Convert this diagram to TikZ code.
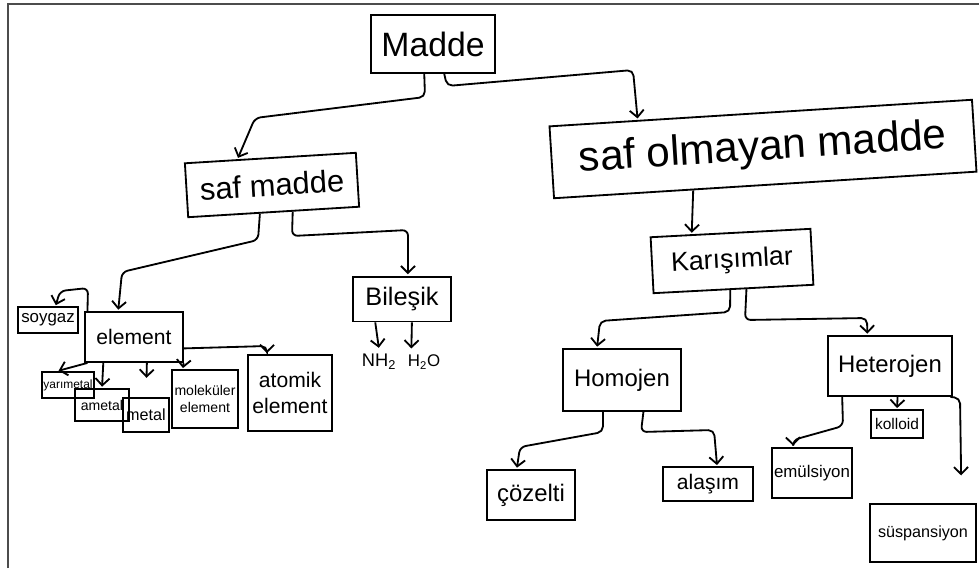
\documentclass[tikz,border=0pt]{standalone}
\usepackage{fontspec}
\setmainfont{Liberation Sans}
\usetikzlibrary{arrows.meta,calc}

\newcommand{\sz}[2]{\fontsize{#1}{#2}\selectfont}

\begin{document}
\begin{tikzpicture}[x=0.025cm,y=-0.025cm,
    box/.style={draw,line width=1.3pt,inner sep=1pt,align=center},
    link/.style={->,line width=1.3pt,shorten >=1pt,rounded corners=4pt},
    >={Straight Barb[length=5pt,width=10pt]}]
	\useasboundingbox (0,0) rectangle (979,568);
	\draw[gray!60!black,line width=2pt] (8,568) -- (8,4) -- (979,4);

	% top of the tree
	\node[box,minimum width=3.08cm,minimum height=1.45cm,font=\sz{24}{26}] (madde) at (433,44) {Madde};
	\node[box,minimum width=4.28cm,minimum height=1.35cm,rotate=3.5,font=\sz{22}{24}] (saf) at (272,185) {saf madde};
	\node[box,minimum width=10.58cm,minimum height=1.8cm,rotate=3.6,font=\sz{30}{32}] (safol) at (763,149) {saf olmayan madde};

	% saf madde side
	\node[box,minimum width=2.43cm,minimum height=1.25cm,font=\sz{15}{17}] (elem) at (134,337) {element};
	\node[box,minimum width=2.43cm,minimum height=1.12cm,font=\sz{18}{20}] (bil) at (402,299) {Bileşik};
	\node[font=\sz{13}{15}] (nh) at (379,362) {NH\textsubscript{2}};
	\node[font=\sz{12}{14}] (su) at (424,362) {H\textsubscript{2}O};

	\node[box,minimum width=1.5cm,minimum height=0.63cm,font=\sz{12}{14}] (soy) at (48,320) {soygaz};
	\node[box,minimum width=1.25cm,minimum height=0.65cm,font=\sz{8.5}{10}] (yari) at (68,385) {yarımetal};
	\node[box,minimum width=1.33cm,minimum height=0.8cm,font=\sz{10}{12}] (amet) at (102,405) {ametal};
	\node[box,minimum width=1.13cm,minimum height=0.83cm,font=\sz{11.5}{13}] (met) at (146,415) {metal};
	\node[box,minimum width=1.63cm,minimum height=1.43cm,font=\sz{10}{12}] (molek) at (205,399) {moleküler\\element};
	\node[box,minimum width=2.1cm,minimum height=1.88cm,font=\sz{15}{18}] (atom) at (290,393) {atomik\\element};

	% karisimlar side
	\node[box,minimum width=4cm,minimum height=1.4cm,rotate=3,font=\sz{19}{21}] (kar) at (732,261) {Karışımlar};
	\node[box,minimum width=2.93cm,minimum height=1.55cm,font=\sz{17}{19}] (homo) at (622,380) {Homojen};
	\node[box,minimum width=3.1cm,minimum height=1.5cm,font=\sz{17}{19}] (het) at (890,366) {Heterojen};
	\node[box,minimum width=2.18cm,minimum height=1.25cm,font=\sz{17}{19}] (coz) at (531,495) {çözelti};
	\node[box,minimum width=2.23cm,minimum height=0.83cm,font=\sz{15}{17}] (alas) at (708,484) {alaşım};
	\node[box,minimum width=1.3cm,minimum height=0.68cm,font=\sz{11}{13}] (koll) at (897,424) {kolloid};
	\node[box,minimum width=2cm,minimum height=1.25cm,font=\sz{12}{14}] (emul) at (812,473) {emülsiyon};
	\node[box,minimum width=2.63cm,minimum height=1.43cm,font=\sz{11.5}{13}] (susp) at (923,533) {süspansiyon};

	% arrows
	\draw[link] ($(madde.south west)!.43!(madde.south east)$) -- (425,97) -- (255,118) -- ($(saf.north west)!.31!(saf.north east)$);
	\draw[link] ($(madde.south west)!.59!(madde.south east)$) -- (447,86) -- (633,70) -- ($(safol.north west)!.21!(safol.north east)$);

	\draw[link] ($(saf.south west)!.42!(saf.south east)$) -- (258,240) -- (122,272) -- ($(elem.north west)!.34!(elem.north east)$);
	\draw[link] ($(saf.south west)!.61!(saf.south east)$) -- (292,236) -- (408,230) -- ($(bil.north west)!.56!(bil.north east)$);
	\draw[link] ($(bil.south west)!.23!(bil.south east)$) -- (nh.north);
	\draw[link] ($(bil.south west)!.6!(bil.south east)$) -- ($(su.north west)!.2!(su.north east)$);

	\draw[link] ($(elem.north west)!.03!(elem.north east)$) -- (88,288) -- (60,291) -- ($(soy.north west)!.62!(soy.north east)$);
	\draw[link] ($(elem.south west)!.03!(elem.south east)$) -- ($(yari.north west)!.3!(yari.north east)$);
	\draw[link] ($(elem.south west)!.19!(elem.south east)$) -- (amet.north);
	\draw[link,shorten >=14pt] ($(elem.south west)!.63!(elem.south east)$) -- ($(met.north west)!.5!(met.north east)$);
	\draw[link] (elem.south east) -- ($(molek.north west)!.17!(molek.north east)$);
	\draw[link] ($(elem.north east)!.72!(elem.south east)$) -- (267,346) -- ($(atom.north west)!.23!(atom.north east)$);

	\draw[link] ($(safol.south west)!.33!(safol.south east)$) -- ($(kar.north west)!.26!(kar.north east)$);
	\draw[link] ($(kar.south west)!.48!(kar.south east)$) -- (730,312) -- (600,321) -- ($(homo.north west)!.29!(homo.north east)$);
	\draw[link] ($(kar.south west)!.58!(kar.south east)$) -- (745,320) -- (867,318) -- ($(het.north west)!.32!(het.north east)$);

	\draw[link] ($(homo.south west)!.34!(homo.south east)$) -- (603,432) -- (520,447) -- ($(coz.north west)!.34!(coz.north east)$);
	\draw[link] ($(homo.south west)!.68!(homo.south east)$) -- (641,432) -- (714,430) -- ($(alas.north west)!.6!(alas.north east)$);

	\draw[link] ($(het.south west)!.56!(het.south east)$) -- (koll.north);
	\draw[link] ($(het.south west)!.12!(het.south east)$) -- (843,426) -- (793,440) -- ($(emul.north west)!.27!(emul.north east)$);
	\draw[link,shorten >=20pt] ($(het.south west)!.98!(het.south east)$) -- (960,398) -- ($(susp.north west)!.86!(susp.north east)$);

\end{tikzpicture}
\end{document}
